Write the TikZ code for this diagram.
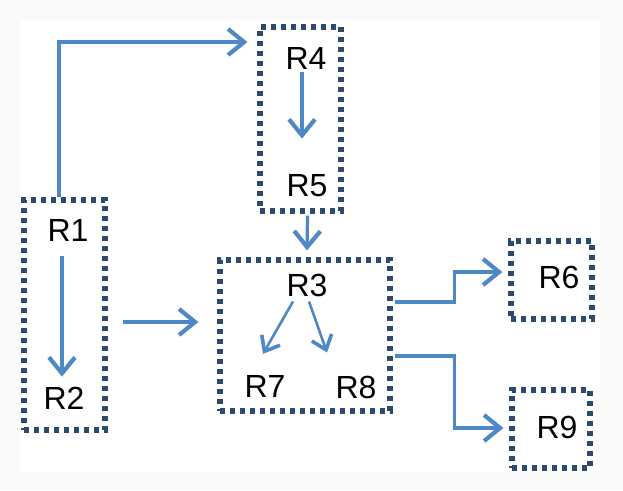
\documentclass[tikz,border=0pt]{standalone}
\usepackage{fontspec}
\setmainfont{Liberation Sans}
\usetikzlibrary{arrows.meta, positioning}

\definecolor{dotblue}{HTML}{2C4A6E}
\definecolor{flowblue}{HTML}{4F88C6}

\begin{document}
\begin{tikzpicture}[
    x=1pt, y=-1pt,
    region/.style={
        draw=dotblue,
        line width=5.2pt,
        dash pattern=on 5pt off 5pt,
        inner sep=0pt
    },
    label/.style={
        inner sep=0pt,
        font=\fontsize{32}{32}\selectfont
    },
    arrow/.style={-{Straight Barb[length=16pt, width=26pt, line width=4.2pt]}, draw=flowblue, line width=3.2pt},
    small arrow/.style={-{Straight Barb[length=13pt, width=21pt, line width=3.6pt]}, draw=flowblue, line width=2.6pt}
]
\fill[gray!4] (0,0) rectangle (623,490);
\fill[white] (20,20) rectangle (600,472);
\useasboundingbox (0,0) rectangle (623,490);

% dotted regions
\node[region, minimum width=81pt, minimum height=230pt] (box12) at (64.5,315) {};
\node[region, minimum width=81pt, minimum height=184pt] (box45) at (300.5,119) {};
\node[region, minimum width=170pt, minimum height=151pt] (box378) at (305,335.5) {};
\node[region, minimum width=81pt, minimum height=78pt] (box6) at (551.5,280) {};
\node[region, minimum width=78pt, minimum height=78pt] (box9) at (551,429) {};

% labels
\node[label] (r1) at (68,230) {R1};
\node[label] (r2) at (64,398) {R2};
\node[label] (r4) at (306,58) {R4};
\node[label] (r5) at (307,186) {R5};
\node[label] (r3) at (307,285) {R3};
\node[label] (r7) at (265,386) {R7};
\node[label] (r8) at (356,387) {R8};
\node[label] (r6) at (559,277) {R6};
\node[label] (r9) at (557,427) {R9};

% flows
\draw[arrow] ([xshift=-5.5pt]box12.north) |- ([xshift=-10pt, yshift=77pt]box45.west);
\draw[arrow] ([xshift=-6pt, yshift=-15pt]r1.south) -- ([xshift=-2pt, yshift=10pt]r2.north);
\draw[arrow] ([xshift=-4pt, yshift=-3pt]r4.south) -- ([xshift=-5pt, yshift=36pt]r5.north);
\draw[arrow] ([xshift=7pt, yshift=-2pt]box45.south) -- ([xshift=2pt, yshift=7pt]box378.north);
\draw[arrow] ([xshift=15pt, yshift=-7pt]box12.east) -- ([xshift=-19pt, yshift=13.5pt]box378.west);
\draw[small arrow] ([xshift=-14pt, yshift=-5pt]r3.south) -- ([xshift=-2pt, yshift=21pt]r7.north);
\draw[small arrow] ([xshift=2pt, yshift=-5pt]r3.south) -- ([xshift=-29pt, yshift=23pt]r8.north);
\draw[arrow] ([xshift=2pt, yshift=33.5pt]box378.east) -- ++(60,0) |- ([xshift=-6pt, yshift=8pt]box6.west);
\draw[arrow] ([xshift=2pt, yshift=-20.5pt]box378.east) -- ++(60,0) |- ([xshift=-6pt, yshift=1pt]box9.west);
\end{tikzpicture}
\end{document}
